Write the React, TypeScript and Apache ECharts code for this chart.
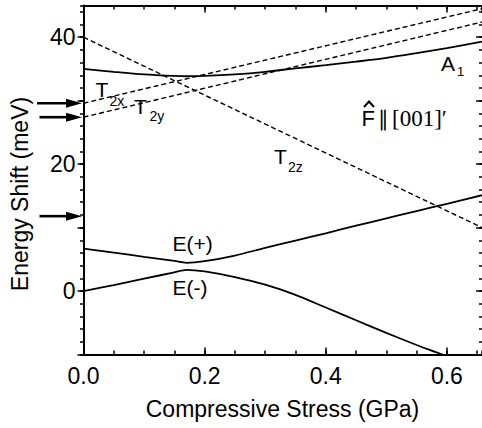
import React, { useEffect, useRef } from 'react';
import * as echarts from 'echarts';

// ---- data ----
const stress = [0, 0.05, 0.1, 0.15, 0.17, 0.2, 0.25, 0.3, 0.35, 0.4, 0.45, 0.5, 0.55, 0.6, 0.658];
const a1Energy = [35.0, 34.55, 34.15, 33.9, 33.85, 33.9, 34.15, 34.55, 35.1, 35.6, 36.15, 36.75, 37.5, 38.3, 39.3];
const ePlusEnergy = [6.7, 6.05, 5.4, 4.75, 4.45, 4.7, 5.6, 6.8, 7.95, 9.1, 10.3, 11.45, 12.6, 13.75, 15.1];
const eMinusEnergy = [0, 0.95, 1.95, 2.95, 3.35, 3.1, 2.2, 1.0, -0.6, -2.6, -4.6, -6.6, -8.5, -10.3, -12.7];

const dashedStress = [0, 0.658];
const t2xEnergy = [29.6, 44.5];
const t2yEnergy = [27.4, 42.4];
const t2zEnergy = [40.0, 10.0];

const arrowLevels = [29.6, 27.4, 11.8];

// tick labels
const xLabelValues = [0, 0.2, 0.4, 0.6];
const yLabelValues = [0, 20, 40];

const X_MIN = 0;
const X_MAX = 0.658;
const X_MAJOR = 0.2;
const X_MINOR = 0.05;
const Y_MIN = -10;
const Y_MAX = 45;
const Y_MAJOR = 10;
const Y_MINOR = 2;

const FONT = '"Liberation Sans", Arial, Helvetica, sans-serif';
const SERIF = '"Liberation Serif", "Times New Roman", serif';

const pairs = (xs: number[], ys: number[]) => xs.map((x, i) => [x, ys[i]]);
const near = (v: number, list: number[]) => list.some((l) => Math.abs(l - v) < 1e-6);

export default function App() {
  const ref = useRef<HTMLDivElement>(null);

  useEffect(() => {
    if (!ref.current) return;
    const chart = echarts.init(ref.current, undefined, { renderer: 'svg' });

    const axisLineStyle = { color: '#000', width: 2 };
    const tickColor = '#000';

    const solid = (name: string, data: number[][]) => ({
      type: 'line' as const,
      name,
      data,
      xAxisIndex: 0,
      yAxisIndex: 0,
      showSymbol: false,
      symbol: 'none',
      smooth: 0.3,
      lineStyle: { color: '#000', width: 1.8, type: 'solid' as const },
    });
    const dashed = (name: string, data: number[][]) => ({
      type: 'line' as const,
      name,
      data,
      xAxisIndex: 0,
      yAxisIndex: 0,
      showSymbol: false,
      symbol: 'none',
      lineStyle: { color: '#000', width: 1.4, type: [5, 3] as any },
    });

    const txt = (text: string, x: number, y: number, size: number, family = FONT, extra: any = {}) => ({
      type: 'text',
      x,
      y,
      silent: true,
      style: {
        text,
        fill: '#000',
        fontSize: size,
        fontFamily: family,
        textAlign: 'left',
        textVerticalAlign: 'middle',
        ...extra,
      },
    });

    const xAxisCommon = (position: 'top' | 'bottom', showLine: boolean, interval: number, len: number) => ({
      type: 'value' as const,
      min: X_MIN,
      max: X_MAX,
      interval,
      position,
      offset: 0,
      splitLine: { show: false },
      axisLine: { show: showLine, onZero: false, lineStyle: axisLineStyle },
      axisTick: { show: true, inside: true, length: len, lineStyle: { color: tickColor, width: 1.5 } },
      axisLabel: { show: false },
    });
    const yAxisCommon = (position: 'left' | 'right', showLine: boolean, interval: number, len: number, inside: boolean) => ({
      type: 'value' as const,
      min: Y_MIN,
      max: Y_MAX,
      interval,
      position,
      offset: 0,
      splitLine: { show: false },
      axisLine: { show: showLine, onZero: false, lineStyle: axisLineStyle },
      axisTick: { show: true, inside, length: len, lineStyle: { color: tickColor, width: 1.5 } },
      axisLabel: { show: false },
    });

    chart.setOption({
      animation: false,
      backgroundColor: '#fff',
      grid: { left: 83.5, top: 5.5, right: 0, bottom: 73.5, containLabel: false, outerBoundsMode: 'none' } as any,
      xAxis: [
        {
          ...xAxisCommon('bottom', true, X_MAJOR, 7),
          axisLabel: {
            show: true,
            showMaxLabel: false,
            formatter: (v: number) => (near(v, xLabelValues) ? v.toFixed(1) : ''),
            color: '#000',
            fontSize: 23,
            fontFamily: FONT,
            margin: 10,
          },
        },
        xAxisCommon('bottom', false, X_MINOR, 4),
        xAxisCommon('top', true, X_MAJOR, 7),
        xAxisCommon('top', false, X_MINOR, 4),
      ],
      yAxis: [
        {
          ...yAxisCommon('left', true, Y_MAJOR, 6, false),
          axisLabel: {
            show: true,
            showMaxLabel: false,
            formatter: (v: number) => (near(v, yLabelValues) ? String(v) : ''),
            color: '#000',
            fontSize: 23,
            fontFamily: FONT,
            margin: 8,
          },
        },
        yAxisCommon('left', false, Y_MINOR, 3.5, false),
        yAxisCommon('right', false, Y_MAJOR, 6, true),
        yAxisCommon('right', false, Y_MINOR, 3, true),
      ],
      series: [
        solid('A1', pairs(stress, a1Energy)),
        solid('E(+)', pairs(stress, ePlusEnergy)),
        solid('E(-)', pairs(stress, eMinusEnergy)),
        dashed('T2x', pairs(dashedStress, t2xEnergy)),
        dashed('T2y', pairs(dashedStress, t2yEnergy)),
        dashed('T2z', pairs(dashedStress, t2zEnergy)),
      ],
    });

    const px = (x: number, y: number) => chart.convertToPixel({ xAxisIndex: 0, yAxisIndex: 0 }, [x, y]) as number[];

    const arrows: any[] = [];
    arrowLevels.forEach((lvl, i) => {
      const p = px(0, lvl);
      const tipX = p[0] - 1.5;
      const y = p[1];
      const tail = i === 0 ? 37 : 39.5;
      arrows.push({
        type: 'line',
        silent: true,
        shape: { x1: tail, y1: y, x2: tipX - 12, y2: y },
        style: { stroke: '#000', lineWidth: 2.6 },
      });
      arrows.push({
        type: 'polygon',
        silent: true,
        shape: { points: [[tipX, y], [tipX - 16, y - 4.5], [tipX - 16, y + 4.5]] },
        style: { fill: '#000' },
      });
    });

    chart.setOption({
      graphic: {
        elements: [
          ...arrows,
          txt('Compressive Stress (GPa)', 282.5, 409, 23, FONT, { textAlign: 'center' }),
          {
            type: 'text',
            x: 19.5,
            y: 194,
            rotation: Math.PI / 2,
            silent: true,
            style: {
              text: 'Energy Shift (meV)',
              fill: '#000',
              fontSize: 23,
              fontFamily: FONT,
              textAlign: 'center',
              textVerticalAlign: 'middle',
            },
          },
          txt('T', 95.5, 89.5, 21),
          txt('2x', 109.5, 101, 14, FONT, { backgroundColor: '#fff' }),
          txt('T', 134, 106, 21),
          txt('2y', 149.5, 116, 14),
          txt('T', 274, 156.5, 21),
          txt('2z', 288, 167, 14),
          txt('A', 441, 63, 21),
          txt('1', 457, 71, 13),
          txt('E(+)', 172.5, 243, 21),
          txt('E(-)', 172.5, 287.5, 21),
          txt('F', 361.5, 118.5, 22),
          {
            type: 'polyline',
            silent: true,
            shape: { points: [[364, 107], [369, 101.5], [374, 107]] },
            style: { stroke: '#000', lineWidth: 2, fill: 'none' },
          },
          txt('\u2225', 378, 118.5, 21),
          txt('[001]\u2032', 392, 118, 23, SERIF),
        ],
      },
    });

    return () => chart.dispose();
  }, []);

  return <div ref={ref} style={{ position: 'absolute', left: 0, top: 0, width: 482, height: 428, background: '#fff' }} />;
}
